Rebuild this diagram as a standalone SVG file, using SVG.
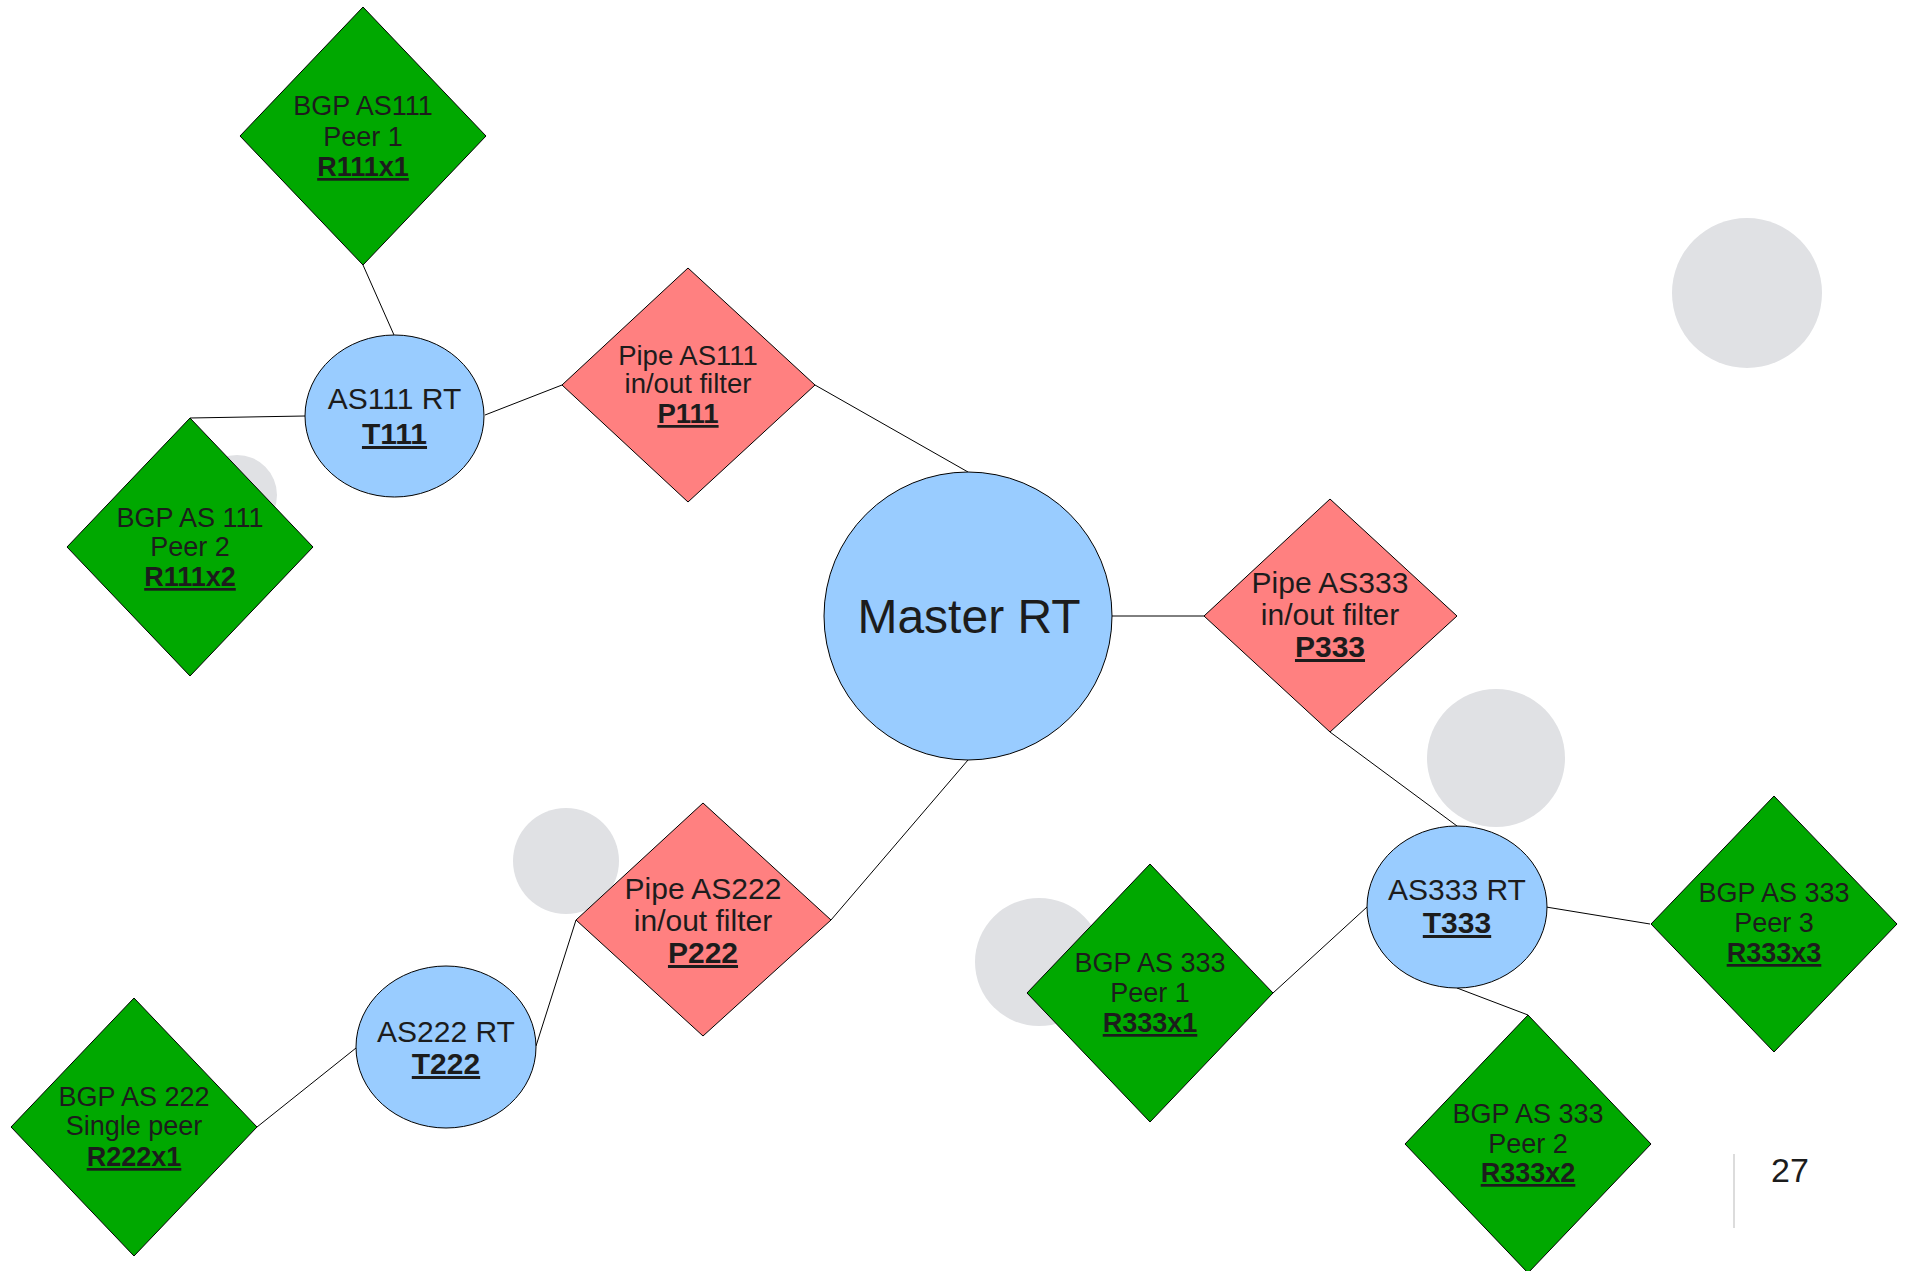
<svg xmlns="http://www.w3.org/2000/svg" width="1905" height="1271" viewBox="0 0 1905 1271">
<style>
text{font-family:"Liberation Sans",Arial,sans-serif;fill:#1c1c1c;text-anchor:middle}
.g{fill:#00a800;stroke:#000;stroke-width:1}
.p{fill:#ff8080;stroke:#000;stroke-width:1}
.b{fill:#99ccff;stroke:#000;stroke-width:1}
.bg{fill:#e0e1e4}
.c line{stroke:#000;stroke-width:1}
.s26{font-size:27px}
.s27{font-size:27.5px}
.s29{font-size:30px}
.u{font-weight:bold;text-decoration:underline}
</style>
<rect width="1905" height="1271" fill="#fff"/>
<g id="decor">
<circle class="bg" cx="1747" cy="293" r="75"/>
<circle class="bg" cx="237" cy="495" r="40"/>
<circle class="bg" cx="566" cy="861" r="53"/>
<circle class="bg" cx="1039" cy="962" r="64"/>
<circle class="bg" cx="1496" cy="758" r="69"/>
</g>
<g class="c" id="connectors">
<line x1="363" y1="265" x2="394" y2="335"/>
<line x1="305" y1="416" x2="190" y2="418"/>
<line x1="485" y1="415" x2="562" y2="385"/>
<line x1="815" y1="385" x2="968" y2="472"/>
<line x1="1112" y1="616" x2="1204" y2="616"/>
<line x1="831" y1="920" x2="968" y2="760"/>
<line x1="536" y1="1046" x2="576" y2="920"/>
<line x1="257" y1="1127" x2="356" y2="1048"/>
<line x1="1330" y1="732" x2="1457" y2="826"/>
<line x1="1367" y1="907" x2="1273" y2="993"/>
<line x1="1546" y1="907" x2="1650" y2="924"/>
<line x1="1457" y1="988" x2="1528" y2="1015"/>
</g>
<g id="R111x1">
<polygon class="g" points="363,7 486,136 363,265 240,136"/>
<text class="s26" x="363" y="115">BGP AS111</text>
<text class="s26" x="363" y="146">Peer 1</text>
<text class="s26 u" x="363" y="176">R111x1</text>
</g>
<g id="R111x2">
<polygon class="g" points="190,418 313,547 190,676 67,547"/>
<text class="s26" x="190" y="527">BGP AS 111</text>
<text class="s26" x="190" y="556">Peer 2</text>
<text class="s26 u" x="190" y="586">R111x2</text>
</g>
<g id="T111">
<ellipse class="b" cx="394.5" cy="416" rx="89.5" ry="81"/>
<text class="s29" x="394.5" y="409">AS111 RT</text>
<text class="s29 u" x="394.5" y="444">T111</text>
</g>
<g id="P111">
<polygon class="p" points="688,268 815,385 688,502 562,385"/>
<text class="s27" x="688" y="365">Pipe AS111</text>
<text class="s27" x="688" y="393">in/out filter</text>
<text class="s27 u" x="688" y="423">P111</text>
</g>
<g id="MasterRT">
<circle class="b" cx="968" cy="616" r="144"/>
<text x="969" y="633" style="font-size:48px">Master RT</text>
</g>
<g id="P333">
<polygon class="p" points="1330,499 1457,616 1330,732 1204,616"/>
<text class="s29" x="1330" y="593">Pipe AS333</text>
<text class="s29" x="1330" y="625">in/out filter</text>
<text class="s29 u" x="1330" y="657">P333</text>
</g>
<g id="P222">
<polygon class="p" points="703,803 831,920 703,1036 576,920"/>
<text class="s29" x="703" y="899">Pipe AS222</text>
<text class="s29" x="703" y="931">in/out filter</text>
<text class="s29 u" x="703" y="963">P222</text>
</g>
<g id="T222">
<ellipse class="b" cx="446" cy="1047" rx="90" ry="81"/>
<text class="s29" x="446" y="1042">AS222 RT</text>
<text class="s29 u" x="446" y="1074">T222</text>
</g>
<g id="R222x1">
<polygon class="g" points="134,998 257,1127 134,1256 11,1127"/>
<text class="s26" x="134" y="1106">BGP AS 222</text>
<text class="s26" x="134" y="1135">Single peer</text>
<text class="s26 u" x="134" y="1166">R222x1</text>
</g>
<g id="T333">
<ellipse class="b" cx="1457" cy="907" rx="90" ry="81"/>
<text class="s29" x="1457" y="900">AS333 RT</text>
<text class="s29 u" x="1457" y="933">T333</text>
</g>
<g id="R333x1">
<polygon class="g" points="1150,864 1273,993 1150,1122 1027,993"/>
<text class="s26" x="1150" y="972">BGP AS 333</text>
<text class="s26" x="1150" y="1002">Peer 1</text>
<text class="s26 u" x="1150" y="1032">R333x1</text>
</g>
<g id="R333x3">
<polygon class="g" points="1774,796 1897,924 1774,1052 1651,924"/>
<text class="s26" x="1774" y="902">BGP AS 333</text>
<text class="s26" x="1774" y="932">Peer 3</text>
<text class="s26 u" x="1774" y="962">R333x3</text>
</g>
<g id="R333x2">
<polygon class="g" points="1528,1015 1651,1144 1528,1273 1405,1144"/>
<text class="s26" x="1528" y="1123">BGP AS 333</text>
<text class="s26" x="1528" y="1153">Peer 2</text>
<text class="s26 u" x="1528" y="1182">R333x2</text>
</g>
<g id="page">
<line x1="1734" y1="1154" x2="1734" y2="1228" stroke="#d0d0d0" stroke-width="1.5"/>
<text x="1790" y="1182" style="font-size:34px">27</text>
</g>
</svg>
